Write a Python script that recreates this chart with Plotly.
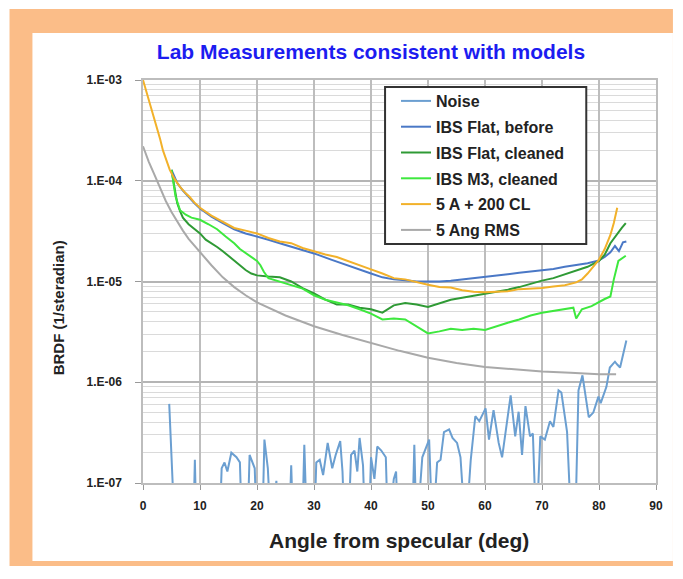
import plotly.graph_objects as go

# ---- data ----
noise_x = [4.6, 5.6, 8.8, 9.1, 9.4, 13.4, 13.8, 14.3, 14.8, 15.5, 16.4, 17.0, 17.4, 18.3, 18.7,
           19.6, 20.0, 20.9, 21.3, 21.9, 22.5, 23.4, 23.8, 25.6, 26.0, 26.4, 27.9, 28.3, 28.8,
           30.0, 30.4, 31.0, 31.6, 32.4, 33.2, 33.8, 34.6, 35.0, 35.4, 36.0, 36.5, 37.1, 37.6,
           38.0, 38.6, 39.0, 39.6, 40.0, 40.6, 41.1, 41.8, 42.6, 43.0, 44.0, 44.4, 44.8, 47.2,
           47.6, 48.0, 49.0, 50.2, 50.8, 51.6, 52.2, 52.8, 53.7, 54.3, 55.1, 55.7, 56.6, 57.5,
           58.3, 59.0, 60.1, 60.7, 61.5, 62.4, 63.0, 64.5, 65.3, 65.9, 66.5, 67.1, 67.9, 68.4,
           69.0, 69.7, 70.5, 71.4, 72.0, 72.9, 73.4, 74.4, 75.2, 75.8, 76.4, 77.1, 78.2, 79.0,
           79.9, 80.3, 81.3, 81.9, 82.8, 83.2, 83.7, 84.8]
noise_y = [6.1e-7, 3e-8, 3e-8, 1.7e-7, 3e-8, 3e-8, 1.4e-7, 1.6e-7, 1.3e-7, 2.0e-7, 1.8e-7, 1.6e-7,
           3e-8, 3e-8, 1.9e-7, 1.4e-7, 3e-8, 3e-8, 2.7e-7, 1.4e-7, 3e-8, 1.05e-7, 3e-8, 3e-8,
           1.5e-7, 3e-8, 3e-8, 2.4e-7, 3e-8, 3e-8, 1.6e-7, 1.7e-7, 1.2e-7, 2.5e-7, 1.4e-7, 1.9e-7,
           2.6e-7, 1.3e-7, 3e-8, 3e-8, 1.9e-7, 2.1e-7, 1.3e-7, 2.8e-7, 1.5e-7, 3e-8, 3e-8, 1.8e-7,
           1.1e-7, 2.3e-7, 2.1e-7, 1.8e-7, 3e-8, 1.1e-7, 1.3e-7, 3e-8, 3e-8, 2.4e-7, 3e-8, 1.8e-7,
           2.7e-7, 3e-8, 1.6e-7, 1.7e-7, 3.2e-7, 3.4e-7, 2.8e-7, 2.5e-7, 1.8e-7, 3e-8, 1.7e-7,
           4.6e-7, 4.1e-7, 5.5e-7, 2.7e-7, 5.3e-7, 2.5e-7, 1.8e-7, 7.4e-7, 2.9e-7, 5.1e-7, 1.9e-7,
           5.8e-7, 2.9e-7, 3.1e-7, 3e-8, 2.9e-7, 2.7e-7, 4.1e-7, 3.6e-7, 8.3e-7, 7.9e-7, 3.2e-7,
           3e-8, 3e-8, 8.3e-7, 1.17e-6, 4.5e-7, 5.0e-7, 7.2e-7, 6.2e-7, 9.0e-7, 1.4e-6, 1.6e-6,
           1.5e-6, 1.4e-6, 2.6e-6]

before_x = [5, 5.5, 6, 7, 8, 9, 10, 12, 14, 16, 18, 20, 22, 25, 28, 30, 33, 35, 38, 40, 42, 44,
            46, 48, 50, 52, 54, 56, 58, 60, 62, 64, 66, 68, 70, 72, 74, 76, 78, 80, 81, 82, 82.8,
            83.5, 84.2, 84.8]
before_y = [1.28e-4, 1.1e-4, 9.5e-5, 8.0e-5, 6.9e-5, 6.0e-5, 5.3e-5, 4.4e-5, 3.8e-5, 3.3e-5,
            3.0e-5, 2.8e-5, 2.6e-5, 2.3e-5, 2.05e-5, 1.9e-5, 1.65e-5, 1.5e-5, 1.3e-5, 1.2e-5,
            1.1e-5, 1.05e-5, 1.03e-5, 1.0e-5, 1.0e-5, 1.0e-5, 1.02e-5, 1.05e-5, 1.07e-5, 1.1e-5,
            1.13e-5, 1.18e-5, 1.22e-5, 1.26e-5, 1.3e-5, 1.33e-5, 1.4e-5, 1.45e-5, 1.52e-5,
            1.62e-5, 1.75e-5, 1.95e-5, 2.25e-5, 2.0e-5, 2.45e-5, 2.5e-5]

flat_x = [5, 5.5, 6, 6.5, 7, 8, 9, 10, 11, 12, 13, 14, 15, 16, 17, 18, 19, 20, 22, 24, 26, 28,
          30, 32, 34, 36, 38, 40, 42, 44, 46, 48, 50, 52, 54, 56, 58, 60, 62, 64, 66, 68, 70,
          72, 74, 76, 78, 80, 81, 82, 83, 84, 84.7]
flat_y = [1.28e-4, 8.5e-5, 6.0e-5, 5.0e-5, 4.3e-5, 3.7e-5, 3.3e-5, 3.0e-5, 2.6e-5, 2.4e-5,
          2.2e-5, 2.0e-5, 1.8e-5, 1.6e-5, 1.45e-5, 1.3e-5, 1.2e-5, 1.15e-5, 1.12e-5, 1.1e-5,
          1.0e-5, 8.6e-6, 7.6e-6, 6.6e-6, 5.9e-6, 5.9e-6, 5.5e-6, 5.3e-6, 4.9e-6, 5.8e-6, 6.1e-6,
          5.9e-6, 5.6e-6, 6.1e-6, 6.6e-6, 6.9e-6, 7.2e-6, 7.5e-6, 7.9e-6, 8.3e-6, 8.8e-6, 9.5e-6,
          1.02e-5, 1.08e-5, 1.18e-5, 1.27e-5, 1.4e-5, 1.6e-5, 1.85e-5, 2.4e-5, 2.9e-5, 3.4e-5,
          3.8e-5]

m3_x = [5, 5.3, 5.7, 6.5, 7.5, 8.5, 10, 11.5, 13, 14.5, 16, 17, 18.5, 20, 20.6, 21.2, 22, 24,
        26, 28, 30, 32, 34, 36, 38, 40, 42, 44, 46, 48, 50, 52, 54, 56, 58, 60, 62, 64, 66, 68,
        70, 72, 74, 75.5, 76, 77, 78.7, 80, 81, 82, 82.6, 83.4, 84, 84.7]
m3_y = [1.28e-4, 1.0e-4, 7.0e-5, 5.1e-5, 4.6e-5, 4.3e-5, 4.1e-5, 3.7e-5, 3.3e-5, 2.8e-5,
        2.4e-5, 2.1e-5, 1.85e-5, 1.6e-5, 1.45e-5, 1.25e-5, 1.08e-5, 1.0e-5, 9.3e-6, 8.5e-6,
        7.3e-6, 6.6e-6, 6.2e-6, 5.8e-6, 5.3e-6, 4.8e-6, 4.2e-6, 4.3e-6, 4.2e-6, 3.6e-6, 3.05e-6,
        3.2e-6, 3.4e-6, 3.3e-6, 3.4e-6, 3.3e-6, 3.6e-6, 3.9e-6, 4.2e-6, 4.6e-6, 4.9e-6, 5.1e-6,
        5.3e-6, 5.5e-6, 4.3e-6, 5.3e-6, 5.7e-6, 6.3e-6, 6.7e-6, 7.1e-6, 1.05e-5, 1.6e-5, 1.7e-5,
        1.8e-5]

cl_x = [0, 0.6, 1.2, 1.8, 2.4, 3, 3.5, 4, 4.7, 5.5, 6.5, 7.5, 8.2, 9, 10, 12, 14, 16, 18, 20,
        22, 24, 26, 28, 30, 32, 34, 36, 38, 40, 42, 44, 46, 48, 50, 52, 54, 56, 58, 60, 62, 64,
        66, 68, 70, 72, 74, 76, 77, 78, 79, 80, 81, 82, 82.6, 83.2]
cl_y = [1.0e-3, 7.7e-4, 5.9e-4, 4.4e-4, 3.4e-4, 2.6e-4, 2.0e-4, 1.65e-4, 1.28e-4, 1.05e-4,
        8.7e-5, 7.5e-5, 6.9e-5, 6.1e-5, 5.4e-5, 4.5e-5, 3.9e-5, 3.4e-5, 3.2e-5, 3.0e-5, 2.7e-5,
        2.5e-5, 2.4e-5, 2.15e-5, 2.0e-5, 1.85e-5, 1.75e-5, 1.6e-5, 1.45e-5, 1.32e-5, 1.2e-5,
        1.08e-5, 1.05e-5, 9.8e-6, 9.3e-6, 8.8e-6, 8.7e-6, 8.2e-6, 7.9e-6, 7.8e-6, 7.9e-6, 8.0e-6,
        8.4e-6, 8.5e-6, 8.6e-6, 8.9e-6, 9.2e-6, 9.8e-6, 1.05e-5, 1.2e-5, 1.4e-5, 1.65e-5, 2.1e-5,
        2.9e-5, 3.8e-5, 5.4e-5]

rms_x = [0, 1, 2, 3, 4, 5, 6, 7, 8, 10, 12, 14, 16, 18, 20, 25, 30, 35, 40, 45, 50, 55, 60, 65,
         70, 75, 80, 83]
rms_y = [2.2e-4, 1.55e-4, 1.15e-4, 8.5e-5, 6.3e-5, 4.9e-5, 3.9e-5, 3.2e-5, 2.65e-5, 1.95e-5,
         1.45e-5, 1.1e-5, 8.8e-6, 7.3e-6, 6.2e-6, 4.6e-6, 3.6e-6, 2.95e-6, 2.45e-6, 2.05e-6,
         1.75e-6, 1.55e-6, 1.42e-6, 1.34e-6, 1.28e-6, 1.24e-6, 1.2e-6, 1.2e-6]

series = [
    ("Noise", noise_x, noise_y, "#6b9fd1"),
    ("IBS Flat, before", before_x, before_y, "#4a78c6"),
    ("IBS Flat, cleaned", flat_x, flat_y, "#2f9a35"),
    ("IBS M3, cleaned", m3_x, m3_y, "#3ee83e"),
    ("5 A + 200 CL", cl_x, cl_y, "#f2b12a"),
    ("5 Ang RMS", rms_x, rms_y, "#a9a9a9"),
]

ytick_vals = [1e-7, 1e-6, 1e-5, 1e-4, 1e-3]
ytick_text = ["1.E-07", "1.E-06", "1.E-05", "1.E-04", "1.E-03"]
xtick_vals = [0, 10, 20, 30, 40, 50, 60, 70, 80, 90]
minor_vals = [m * 10.0 ** e for e in range(-7, -3) for m in range(2, 10)]

FONT = "Arial, Liberation Sans, sans-serif"
INK = "#222"

fig = go.Figure()
for name, xs, ys, col in series:
    fig.add_trace(go.Scatter(x=xs, y=ys, name="<b>" + name + "</b>", mode="lines",
                             legendgroup=name, line=dict(color=col, width=2)))

# the page puts the figure 8px in from the window corner, so the figure is sized to fit
W, H, OFF = 667, 558, 8
# plot area in window px: x 143..658, y 80..483
L, R, T, B = 143, 658, 80, 483


def px(x):
    return (x - L) / (R - L)


def py(y):
    return (B - y) / (B - T)


right_edge = px(W + OFF)
bottom_edge = py(H + OFF)

fig.update_layout(
    width=W, height=H,
    margin=dict(l=L - OFF, r=W - (R - OFF), t=T - OFF, b=H - (B - OFF)),
    paper_bgcolor="white", plot_bgcolor="white",
    font=dict(family=FONT, color=INK),
    title=dict(text="<b>Lab Measurements consistent with models</b>",
               x=(371 - OFF) / W, xref="container", xanchor="center",
               y=1 - (52 - OFF) / H, yref="container", yanchor="middle",
               font=dict(size=21, color="#1c1cf0")),
    shapes=[
        dict(type="rect", xref="paper", yref="paper", x0=px(9), x1=right_edge,
             y0=bottom_edge, y1=py(9),
             fillcolor="#fbbd88", line_width=0, layer="below"),
        dict(type="rect", xref="paper", yref="paper", x0=px(32), x1=right_edge,
             y0=py(561), y1=py(33),
             fillcolor="white", line_width=0, layer="below"),
        # legend frame
        dict(type="rect", xref="paper", yref="paper", x0=px(386), x1=px(588),
             y0=py(244), y1=py(87),
             fillcolor="white", line=dict(color="#333", width=2), layer="above"),
    ],
    annotations=[
        dict(text="<b>BRDF (1/steradian)</b>", textangle=-90, xref="paper", yref="paper",
             x=px(58), y=py(308), showarrow=False, font=dict(size=15, color=INK),
             xanchor="center", yanchor="middle"),
        dict(text="<b>Angle from specular (deg)</b>", xref="paper", yref="paper",
             x=px(400), y=py(540), showarrow=False, font=dict(size=21, color=INK),
             xanchor="center", yanchor="middle"),
    ],
    legend=dict(x=px(397), y=py(84), xanchor="left", yanchor="top",
                bgcolor="rgba(0,0,0,0)", borderwidth=0,
                font=dict(size=16, color=INK, family=FONT),
                tracegroupgap=2, itemwidth=30),
    xaxis=dict(range=[0, 90], tickvals=xtick_vals,
               ticktext=["<b>%d</b>" % v for v in xtick_vals],
               showgrid=True, gridcolor="#bdbdbd", gridwidth=1.5,
               showline=True, linecolor="#bdbdbd", linewidth=1.5, mirror=True,
               ticks="outside", ticklen=5, tickcolor="#999", zeroline=False,
               ticklabelstandoff=6,
               tickfont=dict(size=12, color=INK)),
    yaxis=dict(type="log", range=[-7, -3], tickvals=ytick_vals,
               ticktext=["<b>" + t + "</b>" for t in ytick_text],
               showgrid=True, gridcolor="#b5b5b5", gridwidth=2,
               showline=True, linecolor="#bdbdbd", linewidth=1.5, mirror=True,
               ticks="outside", ticklen=6, tickcolor="#999", zeroline=False,
               ticklabelstandoff=11,
               tickfont=dict(size=12, color=INK),
               minor=dict(tickvals=minor_vals, showgrid=True, gridcolor="#dadada", gridwidth=1,
                          ticks="")),
)

fig.write_html("out.html")
